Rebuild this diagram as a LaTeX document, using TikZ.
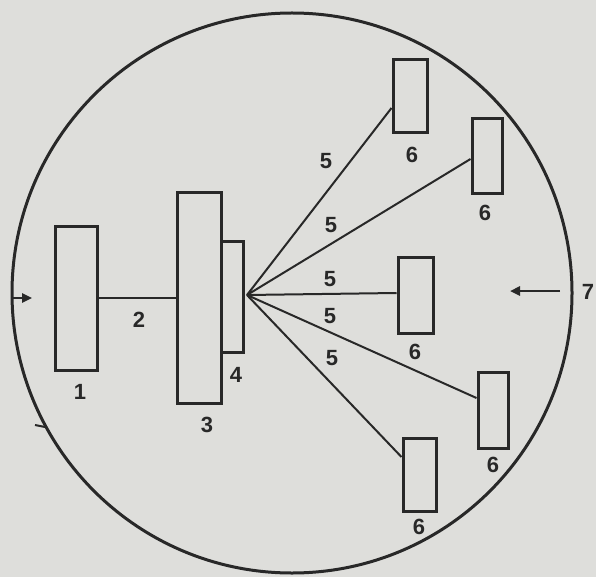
\documentclass[tikz,border=0pt]{standalone}
\usepackage{fontspec}
\setmainfont{Liberation Sans}
\usetikzlibrary{arrows.meta}
\definecolor{paper}{RGB}{222,222,219}
\definecolor{ink}{RGB}{40,40,40}
\begin{document}
\begin{tikzpicture}[x=1pt,y=-1pt,
  unit/.style={draw=ink,line width=3pt,fill=none,inner sep=0pt},
  wire/.style={draw=ink,line width=2pt},
  lbl/.style={text=ink,font=\fontsize{22}{22}\selectfont\bfseries,inner sep=0pt},
  flow/.style={draw=ink,line width=2.4pt,-{Triangle[length=10pt,width=9pt]}}]
  \useasboundingbox[fill=paper] (0,0) rectangle (596,577);
  % housing
  \node[circle,draw=ink,line width=3pt,minimum size=560pt,inner sep=0pt] (ring) at (292,293) {};
  \coordinate (tickA) at (35,425);
  \coordinate (tickB) at (45,427);
  \draw[wire] (tickA) -- (tickB);
  % source, transmission, receivers
  \node[unit,minimum width=42pt,minimum height=144pt] (b1) at (76,298) {};
  \node[unit,minimum width=44pt,minimum height=210pt] (b3) at (199.5,298) {};
  \node[unit,minimum width=22pt,minimum height=111pt] (b4) at (232.5,296.5) {};
  \node[unit,minimum width=34pt,minimum height=73pt] (r1) at (410,96.5) {};
  \node[unit,minimum width=30pt,minimum height=75pt] (r2) at (487,156.5) {};
  \node[unit,minimum width=35pt,minimum height=76pt] (r3) at (415.5,295) {};
  \node[unit,minimum width=30pt,minimum height=76pt] (r4) at (493,410) {};
  \node[unit,minimum width=33pt,minimum height=73pt] (r5) at (419.5,474.5) {};
  \coordinate (hub) at ([xshift=2pt,yshift=1.5pt]b4.east);
  \draw[wire] (b1.east) -- (b3.west);
  \draw[wire] (hub) -- ([yshift=-11.5pt]r1.west);
  \draw[wire] (hub) -- ([yshift=-2.5pt]r2.west);
  \draw[wire] (hub) -- ([yshift=2pt]r3.west);
  \draw[wire] (hub) -- ([yshift=12pt]r4.west);
  \draw[wire] (hub) -- ([yshift=17.5pt]r5.west);
  % inflow and outflow
  \coordinate (inA) at (12,298);
  \coordinate (inB) at (32,298);
  \draw[flow] (inA) -- (inB);
  \coordinate (outA) at (560,291);
  \coordinate (outB) at (510,291);
  \draw[flow] (outA) -- (outB);
  % labels
  \node[lbl] (l1) at (80,392) {1};
  \node[lbl] (l2) at (139,320) {2};
  \node[lbl] (l3) at (207,425) {3};
  \node[lbl] (l4) at (236,375) {4};
  \node[lbl] (l5a) at (326,161) {5};
  \node[lbl] (l5b) at (331,225) {5};
  \node[lbl] (l5c) at (330,279) {5};
  \node[lbl] (l5d) at (330,316) {5};
  \node[lbl] (l5e) at (332,358) {5};
  \node[lbl] (l6a) at (412,155) {6};
  \node[lbl] (l6b) at (485,213) {6};
  \node[lbl] (l6c) at (415,352) {6};
  \node[lbl] (l6d) at (493,465) {6};
  \node[lbl] (l6e) at (419,527) {6};
  \node[lbl] (l7) at (588,292) {7};
\end{tikzpicture}
\end{document}
